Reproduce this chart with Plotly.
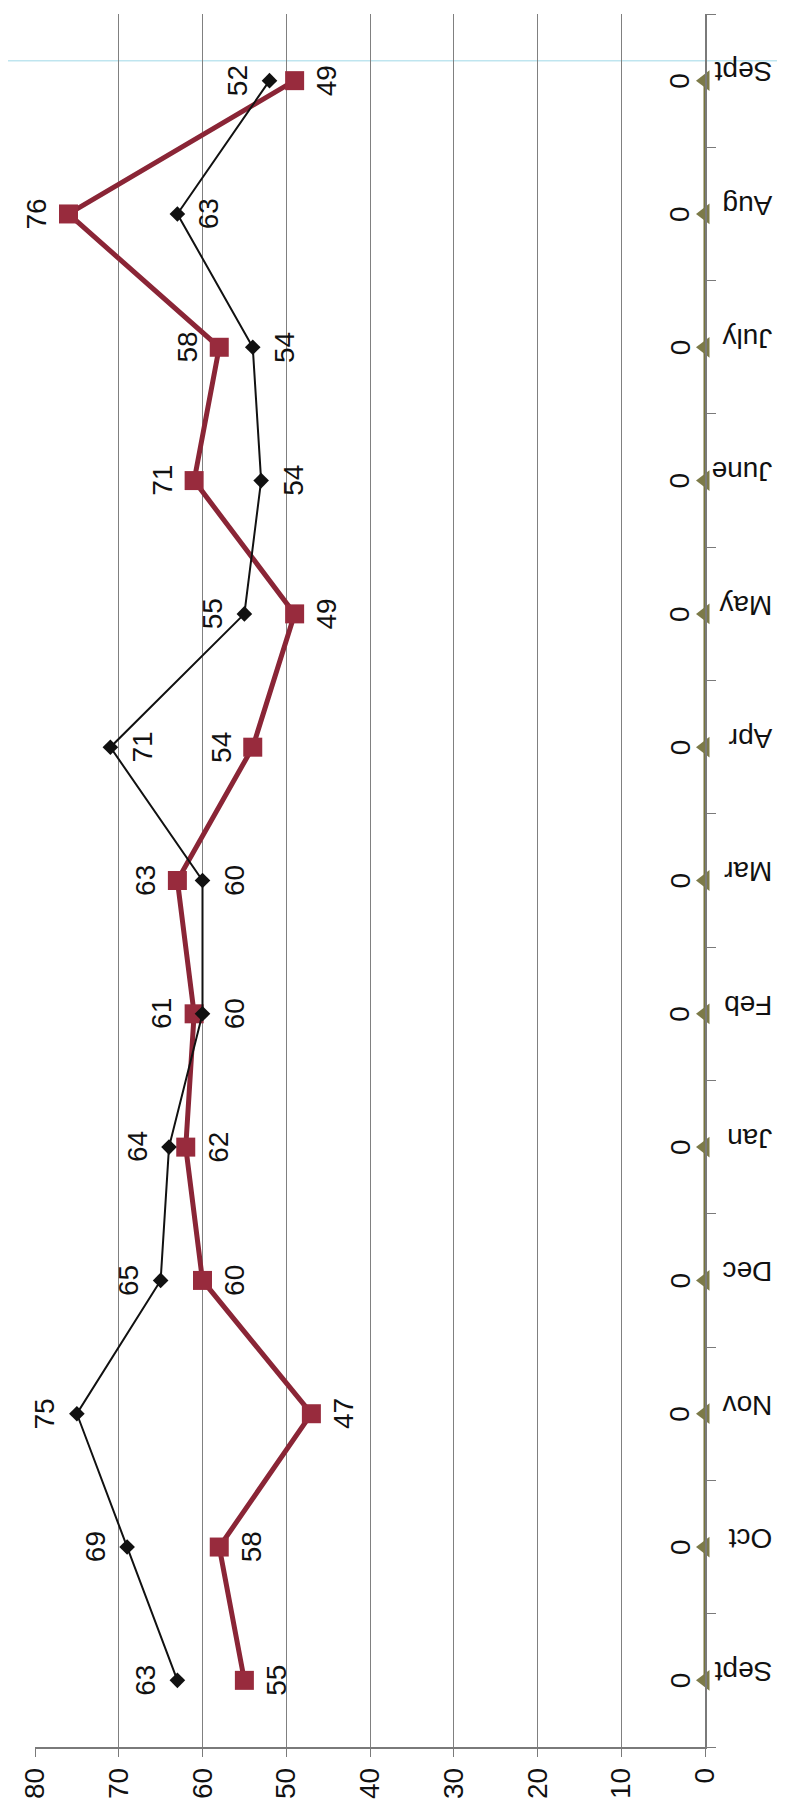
import plotly.graph_objects as go

months = ["Sept", "Oct", "Nov", "Dec", "Jan", "Feb", "Mar", "Apr", "May", "June", "July", "Aug", "Sept"]
series_a = [63, 69, 75, 65, 64, 60, 60, 71, 55, 53, 54, 63, 52]
series_a_labels = ["63", "69", "75", "65", "64", "60", "60", "71", "55", "54", "54", "63", "52"]
series_b = [55, 58, 47, 60, 62, 61, 63, 54, 49, 61, 58, 76, 49]
series_b_labels = ["55", "58", "47", "60", "62", "61", "63", "54", "49", "71", "58", "76", "49"]
series_c = [0, 0, 0, 0, 0, 0, 0, 0, 0, 0, 0, 0, 0]
series_c_labels = ["0", "0", "0", "0", "0", "0", "0", "0", "0", "0", "0", "0", "0"]
value_ticks = [0, 10, 20, 30, 40, 50, 60, 70, 80]

# label side: -1 = toward higher values (left), +1 = toward lower values (right)
side_a = [-1, -1, -1, -1, -1, 1, 1, 1, -1, 1, 1, 1, -1]
side_b = [1, 1, 1, 1, 1, -1, -1, -1, 1, -1, -1, -1, 1]

FONT = "Arial, 'Liberation Sans', sans-serif"
pos = list(range(len(months)))

fig = go.Figure()
fig.add_trace(go.Scatter(
    x=series_c, y=pos, mode="lines+markers", cliponaxis=False,
    line=dict(color="#76733d", width=3),
    marker=dict(symbol="triangle-left", size=18, color="#7c7a48"),
    showlegend=False))
fig.add_trace(go.Scatter(
    x=series_b, y=pos, mode="lines+markers", cliponaxis=False,
    line=dict(color="#8a2536", width=5),
    marker=dict(symbol="square", size=19, color="#982b3d"),
    showlegend=False))
fig.add_trace(go.Scatter(
    x=series_a, y=pos, mode="lines+markers", cliponaxis=False,
    line=dict(color="#111111", width=2),
    marker=dict(symbol="diamond", size=12, color="#111111"),
    showlegend=False))

annotations = []
for i, (v, t, s) in enumerate(zip(series_a, series_a_labels, side_a)):
    annotations.append(dict(x=v, y=i, text=t, showarrow=False, textangle=-90,
                            xshift=32 * s, font=dict(size=28, color="#111111", family=FONT)))
for i, (v, t, s) in enumerate(zip(series_b, series_b_labels, side_b)):
    annotations.append(dict(x=v, y=i, text=t, showarrow=False, textangle=-90,
                            xshift=32 * s, font=dict(size=28, color="#111111", family=FONT)))
for i, (v, t) in enumerate(zip(series_c, series_c_labels)):
    annotations.append(dict(x=v, y=i, text=t, showarrow=False, textangle=-90,
                            xshift=-25, font=dict(size=28, color="#111111", family=FONT)))

fig.update_layout(
    width=785, height=1808,
    margin=dict(l=27, r=88, t=6, b=69),
    paper_bgcolor="white", plot_bgcolor="white",
    font=dict(family=FONT, size=28, color="#111111"),
    annotations=annotations,
    shapes=[dict(type="line", xref="paper", yref="paper",
                 x0=-0.05, x1=1.14, y0=0.973, y1=0.973,
                 line=dict(color="#bfe5ef", width=1.5), layer="below")],
    xaxis=dict(range=[80, 0], tickmode="array", tickvals=value_ticks,
               tickangle=-90, showgrid=True, gridcolor="#808080", gridwidth=1,
               showline=True, linecolor="#7a7a7a", linewidth=1.5,
               ticks="outside", ticklen=8, tickcolor="#7a7a7a",
               zeroline=False, ticklabelstandoff=0,
               tickfont=dict(size=28, family=FONT, color="#111111")),
    yaxis=dict(range=[-0.5, 12.5], tickmode="array", tickvals=pos, ticktext=months,
               tickangle=180, side="right", showgrid=False,
               showline=True, linecolor="#7a7a7a", linewidth=1.5,
               ticks="", zeroline=False, ticklabelstandoff=60,
               minor=dict(tickvals=[p - 0.5 for p in pos] + [len(pos) - 0.5],
                          ticks="outside", ticklen=9, tickcolor="#7a7a7a"),
               tickfont=dict(size=28, family=FONT, color="#111111")),
)

fig.write_html("out.html")
